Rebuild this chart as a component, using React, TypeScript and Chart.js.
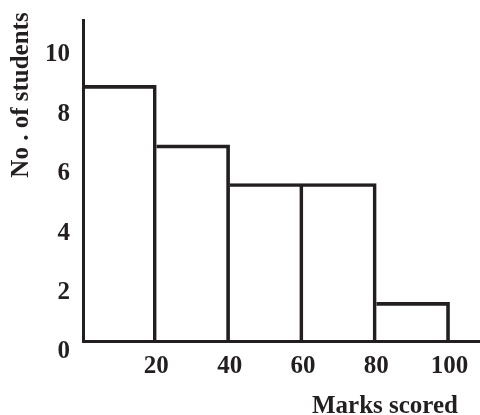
import React, { useEffect, useRef } from 'react';
import { Chart, registerables } from 'chart.js';

Chart.register(...registerables);

// Class intervals (lower bound) and the number of students in each
const binStarts = [0, 20, 40, 60, 80];
const binWidth = 20;
const studentCounts = [8.6, 6.6, 5.3, 5.3, 1.3];

// Tick labels shown on each axis
const xTickValues = [20, 40, 60, 80, 100];
const yTickValues = [0, 2, 4, 6, 8, 10];

const xTitle = 'Marks scored';
const yTitle = 'No . of students';

const INK = '#231f20';
const FONT_FAMILY = '"Liberation Serif", "Times New Roman", serif';
const FONT_SIZE = 25;

const axisTitles = {
  id: 'axisTitles',
  afterDraw(chart: any) {
    const { ctx, chartArea } = chart;
    ctx.save();
    ctx.fillStyle = INK;
    ctx.font = `bold ${FONT_SIZE}px ${FONT_FAMILY}`;
    ctx.textBaseline = 'alphabetic';

    // Horizontal axis title, right-aligned under the last ticks
    ctx.textAlign = 'right';
    ctx.fillText(xTitle, chartArea.right - 22, chart.height - 2);

    // Vertical axis title, reading upward near the top of the axis
    ctx.translate(28, 95);
    ctx.rotate(-Math.PI / 2);
    ctx.textAlign = 'center';
    ctx.fillText(yTitle, 0, 0);
    ctx.restore();
  },
};

export default function App() {
  const canvasRef = useRef<HTMLCanvasElement | null>(null);

  useEffect(() => {
    const canvas = canvasRef.current;
    if (!canvas) return;

    const points = binStarts.map((start, i) => ({
      x: start + binWidth / 2,
      y: studentCounts[i],
    }));

    const tickFont = { family: FONT_FAMILY, size: FONT_SIZE, weight: 'bold' as const };

    const chart = new Chart(canvas, {
      type: 'bar',
      data: {
        datasets: [
          {
            data: points as any,
            backgroundColor: 'transparent',
            borderColor: INK,
            borderWidth: { top: 3, right: 3, bottom: 0, left: 0 } as any,
            barPercentage: 1,
            categoryPercentage: 1,
          },
        ],
      },
      options: {
        responsive: false,
        animation: false,
        layout: { padding: { top: 20, right: 0, bottom: 0, left: 0 } },
        plugins: {
          legend: { display: false },
          tooltip: { enabled: false },
        },
        scales: {
          x: {
            type: 'linear',
            min: 0,
            max: 108.3,
            offset: false,
            grid: { display: false, drawTicks: false },
            border: { display: true, color: INK, width: 3 },
            ticks: {
              color: INK,
              font: tickFont,
              padding: 11,
              maxRotation: 0,
              autoSkip: false,
            },
            afterBuildTicks: (scale: any) => {
              scale.ticks = xTickValues.map((value) => ({ value }));
            },
            afterFit: (scale: any) => {
              scale.height = 74;
              scale.paddingLeft = 0;
              scale.paddingRight = 0;
            },
          },
          y: {
            type: 'linear',
            min: 0,
            max: 10.8,
            grid: { display: false, drawTicks: false },
            border: { display: true, color: INK, width: 3 },
            ticks: {
              color: INK,
              font: tickFont,
              padding: 13,
              labelOffset: 11,
              autoSkip: false,
            },
            afterBuildTicks: (scale: any) => {
              scale.ticks = yTickValues.map((value) => ({ value }));
            },
            afterFit: (scale: any) => {
              scale.width = 83;
              scale.paddingTop = 0;
              scale.paddingBottom = 0;
            },
          },
        },
      },
      plugins: [axisTitles],
    });

    return () => chart.destroy();
  }, []);

  return (
    <div style={{ position: 'absolute', left: 0, top: 0, width: 480, height: 415, background: '#fff' }}>
      <canvas ref={canvasRef} width={480} height={415} style={{ display: 'block' }} />
    </div>
  );
}
